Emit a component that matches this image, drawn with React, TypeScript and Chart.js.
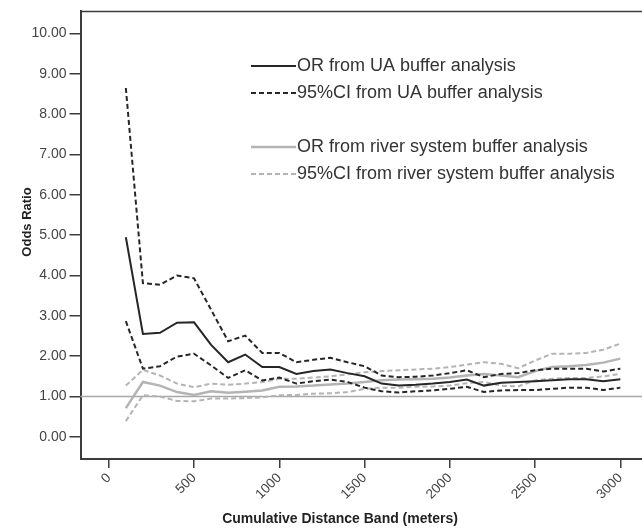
import React, { useEffect, useRef } from "react";
import { Chart, registerables } from "chart.js";

Chart.register(...registerables);

const distances = [100, 200, 300, 400, 500, 600, 700, 800, 900, 1000, 1100, 1200, 1300, 1400, 1500, 1600, 1700, 1800, 1900, 2000, 2100, 2200, 2300, 2400, 2500, 2600, 2700, 2800, 2900, 3000];

const orUA = [4.95, 2.55, 2.58, 2.83, 2.84, 2.28, 1.85, 2.04, 1.73, 1.73, 1.56, 1.63, 1.67, 1.58, 1.50, 1.32, 1.27, 1.29, 1.32, 1.36, 1.42, 1.27, 1.34, 1.36, 1.38, 1.40, 1.43, 1.43, 1.38, 1.43];
const ciUAUpper = [8.65, 3.81, 3.77, 4.00, 3.93, 3.15, 2.37, 2.51, 2.08, 2.08, 1.85, 1.91, 1.96, 1.85, 1.75, 1.52, 1.48, 1.49, 1.52, 1.58, 1.65, 1.48, 1.56, 1.58, 1.65, 1.69, 1.69, 1.69, 1.62, 1.69];
const ciUALower = [2.87, 1.69, 1.75, 1.99, 2.06, 1.77, 1.46, 1.65, 1.40, 1.47, 1.32, 1.38, 1.42, 1.36, 1.22, 1.13, 1.10, 1.13, 1.15, 1.19, 1.24, 1.11, 1.15, 1.16, 1.16, 1.19, 1.22, 1.22, 1.16, 1.22];

const orRiver = [0.71, 1.36, 1.27, 1.11, 1.04, 1.13, 1.09, 1.12, 1.15, 1.24, 1.25, 1.27, 1.30, 1.32, 1.36, 1.40, 1.42, 1.43, 1.44, 1.47, 1.52, 1.56, 1.52, 1.48, 1.63, 1.73, 1.75, 1.78, 1.84, 1.94];
const ciRiverUpper = [1.27, 1.66, 1.52, 1.32, 1.23, 1.32, 1.29, 1.32, 1.36, 1.44, 1.44, 1.47, 1.50, 1.55, 1.60, 1.63, 1.65, 1.67, 1.69, 1.73, 1.79, 1.85, 1.81, 1.70, 1.89, 2.06, 2.06, 2.08, 2.16, 2.31];
const ciRiverLower = [0.39, 1.03, 1.00, 0.89, 0.88, 0.95, 0.95, 0.96, 0.98, 1.03, 1.04, 1.07, 1.08, 1.11, 1.19, 1.22, 1.22, 1.24, 1.25, 1.27, 1.33, 1.36, 1.27, 1.25, 1.40, 1.44, 1.46, 1.46, 1.50, 1.56];

const xTicks = [0, 500, 1000, 1500, 2000, 2500, 3000];
const yTicks = [0, 1, 2, 3, 4, 5, 6, 7, 8, 9, 10];
const referenceValue = 1;

const xTitle = "Cumulative Distance Band (meters)";
const yTitle = "Odds Ratio";

const legendLabels = [
  "OR from UA buffer analysis",
  "95%CI from UA buffer analysis",
  "",
  "OR from river system buffer analysis",
  "95%CI from river system buffer analysis",
];

const BLACK = "#262626";
const GRAY = "#b4b4b4";
const AXIS = "#3c3c3c";
const FONT = "'Liberation Sans', Arial, sans-serif";
const DASH = [5, 3];

const legendStyles = [
  { color: BLACK, dash: [] as number[], width: 2 },
  { color: BLACK, dash: DASH, width: 2 },
  null,
  { color: GRAY, dash: [] as number[], width: 2.5 },
  { color: GRAY, dash: DASH, width: 2 },
];

function pts(vals: number[]) {
  return distances.map((d, i) => ({ x: d, y: vals[i] }));
}

const framePlugin = {
  id: "frameAndLegend",
  beforeDatasetsDraw(chart: any) {
    const { ctx, chartArea } = chart;
    const y = chart.scales.y.getPixelForValue(referenceValue);
    ctx.save();
    ctx.strokeStyle = "#a8a8a8";
    ctx.lineWidth = 1.5;
    ctx.beginPath();
    ctx.moveTo(chartArea.left, y);
    ctx.lineTo(chartArea.right, y);
    ctx.stroke();
    ctx.restore();
  },
  afterDraw(chart: any) {
    const { ctx, chartArea } = chart;
    ctx.save();
    ctx.strokeStyle = AXIS;
    ctx.lineWidth = 1.5;
    ctx.beginPath();
    ctx.moveTo(chartArea.left, chartArea.top);
    ctx.lineTo(chartArea.right, chartArea.top);
    ctx.stroke();

    // axis titles
    ctx.fillStyle = "#222222";
    ctx.textAlign = "center";
    ctx.textBaseline = "middle";
    ctx.font = `bold 14px ${FONT}`;
    ctx.fillText(xTitle, 340, 519);
    ctx.save();
    ctx.translate(27, 222);
    ctx.rotate(-Math.PI / 2);
    ctx.font = `bold 13px ${FONT}`;
    ctx.fillText(yTitle, 0, 0);
    ctx.restore();

    // legend
    const rowY0 = 66;
    const rowH = 27;
    const lineX0 = 251;
    const lineX1 = 296;
    ctx.font = `18px ${FONT}`;
    ctx.textBaseline = "middle";
    ctx.textAlign = "left";
    legendLabels.forEach((label, i) => {
      const st = legendStyles[i];
      if (!st || !label) return;
      const yy = rowY0 + i * rowH;
      ctx.strokeStyle = st.color;
      ctx.lineWidth = st.width;
      ctx.setLineDash(st.dash);
      ctx.beginPath();
      ctx.moveTo(lineX0, yy);
      ctx.lineTo(lineX1, yy);
      ctx.stroke();
      ctx.setLineDash([]);
      ctx.fillStyle = "#333333";
      ctx.fillText(label, lineX1 + 1, yy);
    });
    ctx.restore();
  },
};

export default function App() {
  const ref = useRef<HTMLCanvasElement | null>(null);
  useEffect(() => {
    if (!ref.current) return;
    const chart = new Chart(ref.current, {
      type: "line",
      data: {
        datasets: [
          { label: legendLabels[0], data: pts(orUA), borderColor: BLACK, borderWidth: 2, pointRadius: 0 },
          { label: legendLabels[1], data: pts(ciUAUpper), borderColor: BLACK, borderWidth: 2, borderDash: DASH, pointRadius: 0 },
          { label: legendLabels[1], data: pts(ciUALower), borderColor: BLACK, borderWidth: 2, borderDash: DASH, pointRadius: 0 },
          { label: legendLabels[3], data: pts(orRiver), borderColor: GRAY, borderWidth: 2.5, pointRadius: 0 },
          { label: legendLabels[4], data: pts(ciRiverUpper), borderColor: GRAY, borderWidth: 2, borderDash: DASH, pointRadius: 0 },
          { label: legendLabels[4], data: pts(ciRiverLower), borderColor: GRAY, borderWidth: 2, borderDash: DASH, pointRadius: 0 },
        ],
      },
      options: {
        animation: false,
        responsive: false,
        devicePixelRatio: 1,
        layout: { padding: { top: 11, left: 0, right: 0, bottom: 0 } },
        plugins: { legend: { display: false }, tooltip: { enabled: false } },
        scales: {
          x: {
            type: "linear",
            min: -166,
            max: 3127,
            afterFit: (s: any) => { s.height = 72; },
            afterBuildTicks: (s: any) => { s.ticks = xTicks.map((v) => ({ value: v })); },
            grid: { drawOnChartArea: false, drawTicks: true, tickLength: 9, color: AXIS, lineWidth: 1.5 },
            border: { display: true, color: AXIS, width: 2 },
            ticks: {
              minRotation: 45,
              maxRotation: 45,
              padding: 2,
              color: "#444444",
              font: { family: FONT, size: 13.5 },
              callback: (v: any) => String(v),
            },
            title: { display: false },
          },
          y: {
            type: "linear",
            min: -0.55,
            max: 10.55,
            afterFit: (s: any) => { s.width = 80.5; },
            afterBuildTicks: (s: any) => { s.ticks = yTicks.map((v) => ({ value: v })); },
            grid: { drawOnChartArea: false, drawTicks: true, tickLength: 11, color: AXIS, lineWidth: 1.5 },
            border: { display: true, color: AXIS, width: 2 },
            ticks: {
              padding: 3,
              color: "#444444",
              font: { family: FONT, size: 14 },
              callback: (v: any) => Number(v).toFixed(2),
            },
            title: { display: false },
          },
        },
      },
      plugins: [framePlugin],
    });
    return () => chart.destroy();
  }, []);
  return (
    <div style={{ position: "absolute", left: 0, top: 0, width: 642, height: 531, overflow: "hidden", background: "#fff" }}>
      <canvas ref={ref} width={642} height={531} style={{ display: "block" }} />
    </div>
  );
}
